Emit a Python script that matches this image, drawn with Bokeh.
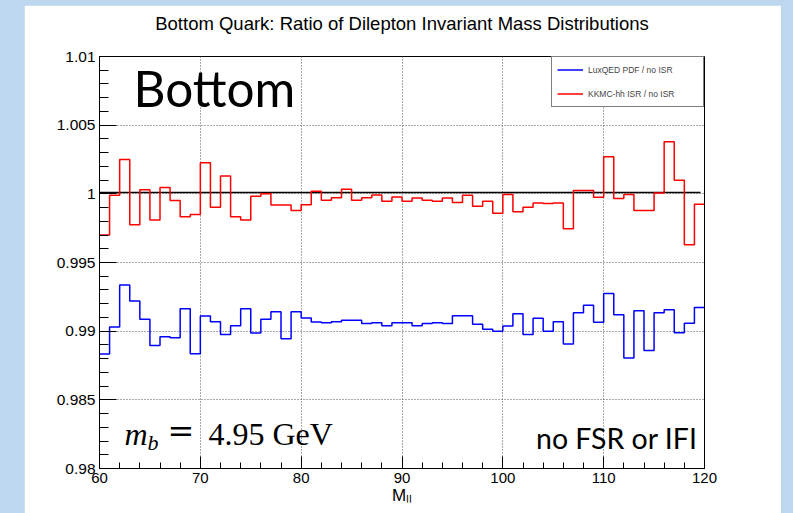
from bokeh.plotting import figure
from bokeh.models import (FixedTicker, CustomJSTickFormatter, Label, Legend,
                          LegendItem, Range1d)
from bokeh.layouts import column
from bokeh.embed import file_html
from bokeh.resources import INLINE

# ---------------- data ----------------
bin_low_edges = list(range(60, 121))  # 60 bins of 1 GeV, edges 60..120

kkmc_ratio = [
    0.99700, 0.99990, 1.00250, 0.99775, 1.00030, 0.99810, 1.00046, 0.99952, 0.99833, 0.99850,
    1.00227, 0.99903, 1.00130, 0.99833, 0.99810, 0.99983, 1.00000, 0.99918, 0.99918, 0.99879,
    0.99920, 1.00018, 0.99953, 0.99972, 1.00034, 0.99953, 0.99972, 0.99991, 0.99946, 0.99977,
    0.99946, 0.99969, 0.99953, 0.99946, 0.99969, 0.99936, 0.99990, 0.99910, 0.99946, 0.99859,
    0.99996, 0.99870, 0.99903, 0.99934, 0.99930, 0.99934, 0.99746, 1.00025, 1.00025, 0.99976,
    1.00270, 0.99966, 0.99996, 0.99879, 0.99879, 1.00006, 1.00380, 1.00099, 0.99630, 0.99924,
]

luxqed_ratio = [
    0.98834, 0.99031, 0.99336, 0.99220, 0.99086, 0.98896, 0.98959, 0.98952, 0.99163, 0.98836,
    0.99110, 0.99069, 0.98976, 0.99040, 0.99163, 0.98986, 0.99086, 0.99141, 0.98945, 0.99141,
    0.99096, 0.99067, 0.99062, 0.99069, 0.99079, 0.99079, 0.99055, 0.99062, 0.99040, 0.99062,
    0.99062, 0.99040, 0.99055, 0.99062, 0.99055, 0.99112, 0.99112, 0.99050, 0.99014, 0.99000,
    0.99038, 0.99127, 0.98976, 0.99094, 0.99000, 0.99069, 0.98906, 0.99134, 0.99189, 0.99065,
    0.99274, 0.99120, 0.98805, 0.99148, 0.98860, 0.99134, 0.99156, 0.98988, 0.99058, 0.99173,
]

fit_x = [60, 119.6]
fit_level = [1.0001, 1.0001]

x_major = [60, 70, 80, 90, 100, 110, 120]
x_minor = list(range(60, 121, 2))
y_major = [0.98, 0.985, 0.99, 0.995, 1.0, 1.005, 1.01]
y_minor = [round(0.98 + 0.001 * i, 3) for i in range(31)]

title_text = "Bottom Quark: Ratio of Dilepton Invariant Mass Distributions"
labels_legend = ["LuxQED PDF / no ISR", "KKMC-hh ISR / no ISR"]

# ---------------- figure ----------------
SANS = "Liberation Sans"
p = figure(width=757, height=508,
           x_range=Range1d(60, 120), y_range=Range1d(0.98, 1.01),
           output_backend="svg", toolbar_location=None,
           min_border_left=75, min_border_right=77,
           min_border_top=51, min_border_bottom=45)
p.margin = (5, 12, 0, 24)
p.background_fill_color = "white"
p.border_fill_color = "white"
p.outline_line_color = "black"
p.outline_line_width = 1

# trailing empty line lifts the title away from the frame
p.title.text = title_text + "\n"
p.title.align = "center"
p.title.text_font = SANS
p.title.text_font_size = "18.5px"
p.title.text_font_style = "normal"
p.title.text_color = "black"
p.title.standoff = 4

# frame pixel geometry (page coords) for annotation placement
FX0, FX1, FY0, FY1 = 99, 704, 56, 468
def dx(px):
    return 60 + (px - FX0) / (FX1 - FX0) * 60
def dy(py):
    return 0.98 + (FY1 - py) / (FY1 - FY0) * 0.03

# axes
p.xaxis.ticker = FixedTicker(ticks=x_major, minor_ticks=x_minor)
p.yaxis.ticker = FixedTicker(ticks=y_major, minor_ticks=y_minor)
p.yaxis.formatter = CustomJSTickFormatter(code="return String(Math.round(tick*1000)/1000);")
for ax in (p.xaxis[0], p.yaxis[0]):
    ax.axis_line_color = "black"
    ax.major_tick_line_color = "black"
    ax.minor_tick_line_color = "black"
    ax.major_tick_out = 0
    ax.minor_tick_out = 0
    ax.major_label_text_font = SANS
    ax.major_label_text_color = "black"
p.xaxis.major_label_text_font_size = "15px"
p.yaxis.major_label_text_font_size = "15.5px"
p.xaxis.major_tick_in = 12
p.xaxis.minor_tick_in = 6
p.yaxis.major_tick_in = 17
p.yaxis.minor_tick_in = 9
p.xaxis.major_label_standoff = 4
p.yaxis.major_label_standoff = 4
p.xaxis.axis_label = "M\u2097\u2097"
p.xaxis.axis_label_text_font = SANS
p.xaxis.axis_label_text_font_size = "17px"
p.xaxis.axis_label_text_font_style = "normal"
p.xaxis.axis_label_text_color = "black"
p.xaxis.axis_label_standoff = 0

# grid
p.xgrid.ticker = FixedTicker(ticks=x_major[1:-1])
p.ygrid.ticker = FixedTicker(ticks=y_major[1:-1])
for g in (p.xgrid[0], p.ygrid[0]):
    g.grid_line_color = "#555555"
    g.grid_line_dash = "1 2"
    g.grid_line_width = 1

# reference line
p.line(fit_x, fit_level, line_color="black", line_width=1.5)

# histograms
r_blue = p.step(bin_low_edges, luxqed_ratio + [luxqed_ratio[-1]], mode="after",
                line_color="#0000FF", line_width=1.5)
r_red = p.step(bin_low_edges, kkmc_ratio + [kkmc_ratio[-1]], mode="after",
               line_color="#FF0000", line_width=1.5)

legend = Legend(items=[LegendItem(label=labels_legend[0], renderers=[r_blue]),
                       LegendItem(label=labels_legend[1], renderers=[r_red])],
                location="top_right", margin=0, padding=5, spacing=9,
                label_height=15, glyph_height=15, glyph_width=26,
                label_width=110, label_standoff=5,
                label_text_font=SANS, label_text_font_size="8.5px",
                border_line_color="black", border_line_width=1,
                background_fill_color="white", background_fill_alpha=1)
p.add_layout(legend)

# texts (baseline y values compensated for the renderer's baseline offset)
p.add_layout(Label(x=dx(133), y=dy(87), text="Bottom", text_align="left",
                   text_baseline="alphabetic", text_font="Lato",
                   text_font_size="49.5px", text_color="black"))
p.add_layout(Label(x=dx(697), y=dy(437), text="no FSR or IFI", text_align="right",
                   text_baseline="alphabetic", text_font="Lato",
                   text_font_size="28.5px", text_color="black"))
SERIF = "Liberation Serif"
p.add_layout(Label(x=dx(124), y=dy(433), text="m", text_baseline="alphabetic",
                   text_font=SERIF, text_font_style="italic", text_font_size="32px",
                   text_color="black"))
p.add_layout(Label(x=dx(147), y=dy(441.5), text="b", text_baseline="alphabetic",
                   text_font=SERIF, text_font_style="italic", text_font_size="22px",
                   text_color="black"))
p.add_layout(Label(x=dx(167), y=dy(430), text="=", text_baseline="alphabetic",
                   text_font="DejaVu Serif", text_font_size="32px", text_color="black"))
p.add_layout(Label(x=dx(208), y=dy(433), text="4.95 GeV", text_baseline="alphabetic",
                   text_font=SERIF, text_font_size="32px", text_color="black"))

layout = column(p, styles={"background-color": "#BDD7EE"})
layout.width = 793
layout.height = 513

open("out.html", "w").write(file_html(layout, INLINE))
